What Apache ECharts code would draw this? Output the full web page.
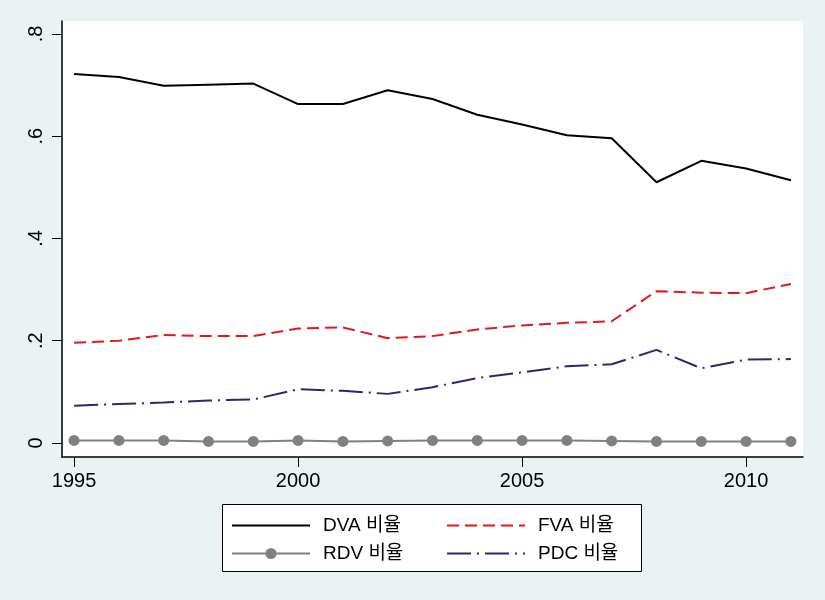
<!DOCTYPE html>
<html>
<head>
<meta charset="utf-8">
<script src="https://cdn.jsdelivr.net/npm/echarts@6/dist/echarts.min.js"></script>
<style>
html,body{margin:0;padding:0;background:#eaf2f3;}
#chart{width:825px;height:600px;}
</style>
</head>
<body>
<div id="chart"></div>
<script>
const years = [1995,1996,1997,1998,1999,2000,2001,2002,2003,2004,2005,2006,2007,2008,2009,2010,2011];
const dva = [0.722,0.716,0.699,0.701,0.703,0.663,0.663,0.690,0.673,0.642,0.623,0.602,0.596,0.510,0.552,0.537,0.514];
const fva = [0.196,0.200,0.211,0.209,0.209,0.224,0.226,0.205,0.209,0.222,0.230,0.235,0.238,0.297,0.294,0.293,0.311];
const rdv = [0.005,0.005,0.005,0.003,0.003,0.005,0.003,0.004,0.005,0.005,0.005,0.005,0.004,0.003,0.003,0.003,0.003];
const pdc = [0.073,0.076,0.079,0.083,0.085,0.105,0.102,0.096,0.109,0.127,0.138,0.150,0.154,0.182,0.146,0.163,0.164];
const xTicks = [1995,2000,2005,2010];
const yTicks = [0,0.2,0.4,0.6,0.8];
const names = ['DVA 비율','FVA 비율','RDV 비율','PDC 비율'];

const FONT = '"Liberation Sans", Arial, "Noto Sans CJK KR", sans-serif';
const pairs = arr => years.map((y,i)=>[y,arr[i]]);
const noSym = {itemStyle:{color:'rgba(0,0,0,0)',borderWidth:0,opacity:0}};

const chart = echarts.init(document.getElementById('chart'));
chart.setOption({
  backgroundColor:'#eaf2f3',
  animation:false,
  textStyle:{fontFamily:FONT},
  grid:{left:62,top:21,right:22,bottom:143,show:true,backgroundColor:'#ffffff',borderWidth:0},
  xAxis:{
    type:'value',min:1994.73,max:2011.27,
    axisLine:{show:true,onZero:false,lineStyle:{color:'#000',width:1.5}},
    axisTick:{show:true,length:10,customValues:xTicks,lineStyle:{color:'#000',width:1}},
    axisLabel:{customValues:xTicks,color:'#000',fontSize:20,margin:14,fontFamily:FONT,formatter:v=>String(v)},
    splitLine:{show:false}
  },
  yAxis:{
    type:'value',min:-0.0275,max:0.8255,
    axisLine:{show:true,onZero:false,lineStyle:{color:'#000',width:1.5}},
    axisTick:{show:true,length:10,customValues:yTicks,lineStyle:{color:'#000',width:1}},
    axisLabel:{customValues:yTicks,color:'#000',fontSize:20,rotate:90,margin:16,fontFamily:FONT,
      formatter:v=>v===0?'0':String(Math.round(v*10)/10).replace(/^0/,'')},
    splitLine:{show:false}
  },
  legend:[
    {orient:'vertical',left:226,top:511,itemWidth:78,itemHeight:14,itemGap:9,
     data:[Object.assign({name:names[0]},noSym),{name:names[2]}],
     textStyle:{fontSize:19,color:'#000',fontFamily:FONT,padding:[0,0,0,8]}},
    {orient:'vertical',left:441,top:511,itemWidth:78,itemHeight:14,itemGap:9,
     data:[Object.assign({name:names[1]},noSym),Object.assign({name:names[3]},noSym)],
     textStyle:{fontSize:19,color:'#000',fontFamily:FONT,padding:[0,0,0,8]}}
  ],
  graphic:[{type:'rect',left:222,top:504,shape:{width:419,height:67},
    style:{fill:'#ffffff',stroke:'#000',lineWidth:1},z:-1}],
  series:[
    {name:names[0],type:'line',data:pairs(dva),symbol:'none',lineStyle:{color:'#000',width:2},itemStyle:{color:'#000'}},
    {name:names[1],type:'line',data:pairs(fva),symbol:'none',lineStyle:{color:'#e0191c',width:2,type:[12,6]},itemStyle:{color:'#e0191c'}},
    {name:names[2],type:'line',data:pairs(rdv),symbol:'circle',symbolSize:11,lineStyle:{color:'#808080',width:2},itemStyle:{color:'#808080'}},
    {name:names[3],type:'line',data:pairs(pdc),symbol:'none',lineStyle:{color:'#27296e',width:2,type:[24,6,2,6]},itemStyle:{color:'#27296e'}}
  ]
});
</script>
</body>
</html>
